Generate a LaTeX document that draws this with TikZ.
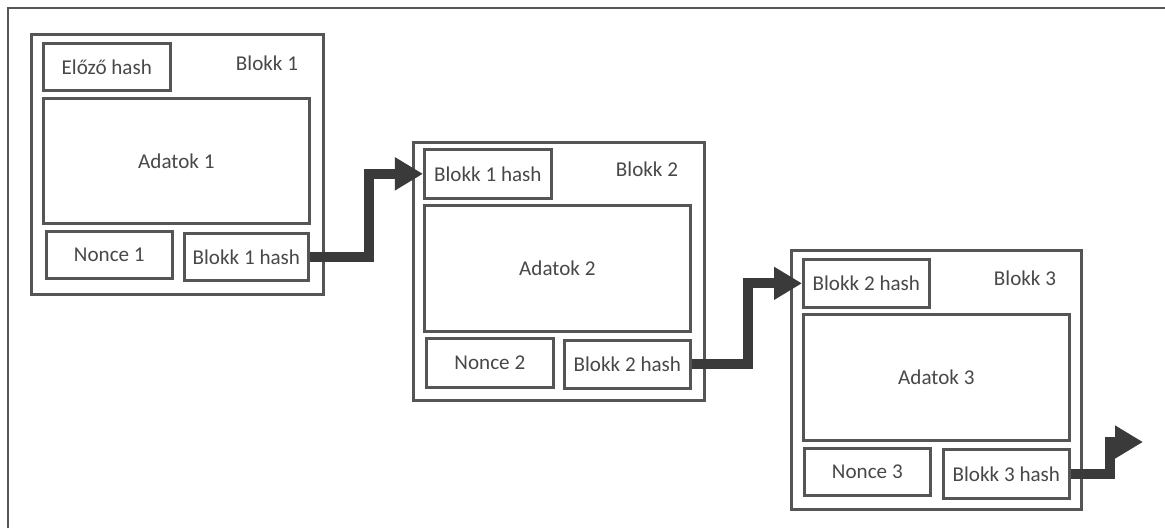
\documentclass[tikz,border=0pt]{standalone}
\usepackage{fontspec}
\setmainfont{Carlito}
\usetikzlibrary{arrows.meta}
\definecolor{linegray}{HTML}{555555}
\definecolor{textgray}{HTML}{484848}
\definecolor{arrowgray}{HTML}{3A3A3A}
\newcommand{\px}{0.025cm}
\tikzset{
x=\px, y=-\px, % one unit per pixel, y pointing down
field/.style 2 args={draw=linegray, line width=1.9pt, text=textgray, anchor=north west,
  inner sep=0pt, minimum width=#1*\px, minimum height=#2*\px,
  font=\fontsize{15}{18}\selectfont}, % boxes of a block
title/.style={text=textgray, font=\fontsize{15}{18}\selectfont}, % block name
link/.style={draw=arrowgray, line width=7pt, -{Triangle[length=0.7cm, width=0.78cm]}}, % hash pointer
frame/.style={draw=linegray, line width=1.9pt},
}

\begin{document}
\begin{tikzpicture}
    \useasboundingbox (0,0) rectangle (1165,528);
    \draw[frame] (8,528) |- (1165,8);

    % Blokk 1
    \node[field={292}{260}] (b1) at (30,33) {};
    \node[field={127}{47}] (e1) at (42,42) {Előző hash};
    \node[title] (t1) at (267,63) {Blokk 1};
    \node[field={266}{125}] (d1) at (42,97) {Adatok 1};
    \node[field={126}{47}] (n1) at (45,230) {Nonce 1};
    \node[field={124}{47}] (h1) at (183,232) {Blokk 1 hash};

    % Blokk 2
    \node[field={291}{258}] (b2) at (412,141) {};
    \node[field={127}{49}] (p2) at (423,148) {Blokk 1 hash};
    \node[title] (t2) at (647,169) {Blokk 2};
    \node[field={266}{126}] (d2) at (423,204) {Adatok 2};
    \node[field={127}{49}] (n2) at (425,337) {Nonce 2};
    \node[field={126}{48}] (h2) at (563,339) {Blokk 2 hash};

    % Blokk 3
    \node[field={290}{259}] (b3) at (790,249) {};
    \node[field={126}{48}] (p3) at (802,258) {Blokk 2 hash};
    \node[title] (t3) at (1025,278) {Blokk 3};
    \node[field={266}{126}] (d3) at (802,313) {Adatok 3};
    \node[field={126}{47}] (n3) at (803,447) {Nonce 3};
    \node[field={126}{49}] (h3) at (942,448) {Blokk 3 hash};

    \coordinate (next) at (1143,442);

    \draw[link] (h1.east) -- ++(59,0) |- (p2.west);
    \draw[link] (h2.east) -- ++(56,0) |- (p3.west);
    \draw[link] (h3.east) -- ++(39,0) |- (next);
\end{tikzpicture}
\end{document}
